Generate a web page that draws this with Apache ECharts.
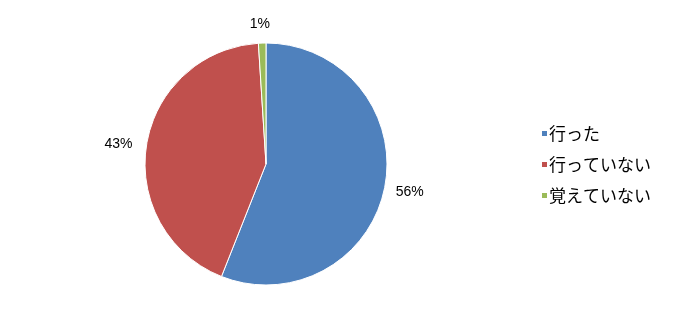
<!DOCTYPE html>
<html><head><meta charset="utf-8">
<script src="https://cdn.jsdelivr.net/npm/echarts@6/dist/echarts.min.js"></script>
<style>html,body{margin:0;padding:0;background:#fff}#c{width:678px;height:328px}</style>
</head><body><div id="c"></div>
<script>
const categories = ['行った', '行っていない', '覚えていない'];
const values = [56, 43, 1];
const colors = ['#4F81BD', '#C0504D', '#9BBB59'];
const chart = echarts.init(document.getElementById('c'));
chart.setOption({
  animation: false,
  color: colors,
  legend: {
    orient: 'vertical',
    left: 535, top: 120,
    itemWidth: 7, itemHeight: 7, itemGap: 14,
    icon: 'rect',
    textStyle: {fontFamily: 'Noto Sans CJK JP', fontSize: 17, color: '#000', padding: [0,0,0,-4]},
    data: categories
  },
  series: [{
    type: 'pie',
    center: [266, 164],
    radius: 121,
    startAngle: 90,
    clockwise: true,
    itemStyle: {borderColor: '#fff', borderWidth: 1},
    label: {
      show: true, position: 'outside',
      formatter: '{d}%',
      fontFamily: 'Liberation Sans', fontSize: 14, color: '#000'
    },
    labelLine: {show: false, length: 6, length2: 0},
    labelLayout: function (p) {
      if (p.dataIndex === 0) return {dy: 4};
      if (p.dataIndex === 1) return {dx: -3};
      if (p.dataIndex === 2) return {dx: 13, dy: -13};
      return {};
    },
    data: categories.map((c, i) => ({name: c, value: values[i]}))
  }]
});
</script></body></html>
